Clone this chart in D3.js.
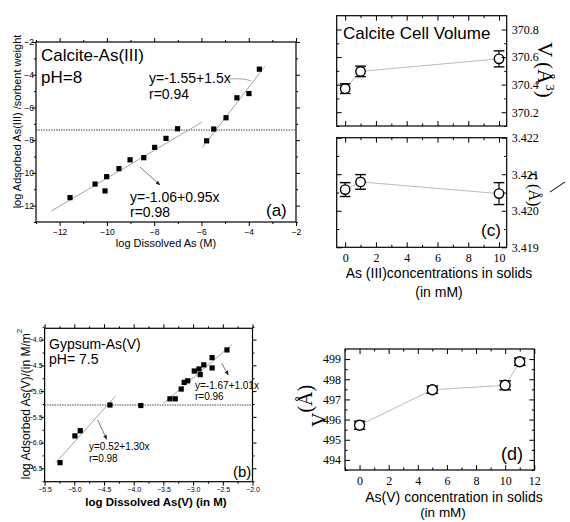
<!DOCTYPE html>
<html>
<head>
<meta charset="utf-8">
<script src="https://cdn.jsdelivr.net/npm/d3@7"></script>
<style>
  body { margin: 0; background: #fff; }
  svg { display: block; }
  text { font-family: "Liberation Sans", Arial, sans-serif; fill: #000; }
  .serif text, text.serif { font-family: "Liberation Serif", "Times New Roman", serif; }
</style>
</head>
<body>
<svg id="chart" width="570" height="522"></svg>
<script>
// (a) calcite, As(III) sorption
var calciteX = [-11.56, -10.50, -10.01, -10.08, -9.49, -9.02, -8.44, -7.98, -7.50, -7.01, -5.78, -5.48, -4.96, -4.50, -3.99, -3.55];
var calciteY = [-11.51, -10.68, -10.23, -11.10, -9.74, -9.20, -9.07, -8.44, -7.89, -7.30, -8.04, -7.32, -6.63, -5.41, -5.15, -3.66];
var calciteFitLow = [[-12.34, -12.32], [-5.98, -6.90]];
var calciteFitHigh = [[-5.96, -8.44], [-3.31, -3.48]];
var calciteLevel = -7.38;
var calciteTicks = [-12, -10, -8, -6, -4, -2];

// (b) gypsum, As(V) sorption
var gypsumX = [-5.24, -4.99, -4.90, -4.40, -3.88, -3.39, -3.30, -3.20, -3.15, -3.09, -2.98, -2.90, -2.88, -2.82, -2.68, -2.68, -2.43];
var gypsumY = [-6.39, -5.87, -5.77, -5.27, -5.28, -5.15, -5.15, -4.96, -4.83, -4.80, -4.61, -4.57, -4.68, -4.49, -4.35, -4.55, -4.20];
var gypsumFitLow = [[-5.31, -6.39], [-4.31, -5.10]];
var gypsumFitHigh = [[-3.50, -5.24], [-2.34, -4.09]];
var gypsumLevel = -5.27;
var gypsumXTicks = [-5.5, -5.0, -4.5, -4.0, -3.5, -3.0, -2.5, -2.0];
var gypsumYTicks = [-6.5, -6.0, -5.5, -5.0, -4.5, -4.0];

// (c) calcite cell parameters
var cellX = [0, 1, 10];
var cellV = [370.371, 370.496, 370.587];
var cellVErr = [0.035, 0.038, 0.058];
var cellC = [3.42058, 3.42079, 3.42047];
var cellCErr = [0.00019, 0.0002, 0.0003];
var cellXTicks = [0, 2, 4, 6, 8, 10];
var cellVTicks = [370.2, 370.4, 370.6, 370.8];
var cellCTicks = [3.419, 3.420, 3.421, 3.422];

// (d) gypsum cell volume
var gypX = [0, 5, 10, 11];
var gypV = [495.72, 497.48, 497.70, 498.87];
var gypVErr = [0.20, 0.18, 0.22, 0.18];
var gypXTicks = [0, 2, 4, 6, 8, 10, 12];
var gypVTicks = [494, 495, 496, 497, 498, 499];

var svg = d3.select('#chart');

svg.append('defs').append('marker')
  .attr('id', 'head')
  .attr('viewBox', '0 0 10 10')
  .attr('refX', 9).attr('refY', 5)
  .attr('markerWidth', 6).attr('markerHeight', 6)
  .attr('orient', 'auto')
  .append('path').attr('d', 'M0,1 L10,5 L0,9 z').attr('fill', '#222');

// one side of a frame: major ticks (maybe labelled) and minor ticks
function side(orient, scale, major, minor, len, pos, fmt, pad, fontSize, serif) {
  var horizontal = (orient === d3.axisBottom || orient === d3.axisTop);
  var tr = horizontal ? 'translate(0,' + pos + ')' : 'translate(' + pos + ',0)';
  var m = svg.append('g').attr('transform', tr)
    .call(orient(scale).tickValues(minor).tickSize(len / 2).tickFormat(''));
  m.select('.domain').remove();
  var g = svg.append('g').attr('transform', tr)
    .call(orient(scale).tickValues(major).tickSize(len).tickPadding(pad || 2).tickFormat(fmt || ''));
  g.select('.domain').remove();
  svg.selectAll('.tick line').attr('stroke', '#000').attr('stroke-width', 1);
  g.selectAll('text')
    .style('font-family', serif ? '"Liberation Serif", "Times New Roman", serif' : '"Liberation Sans", Arial, sans-serif')
    .style('font-size', fontSize + 'px');
  return g;
}

function box(x, y) {
  svg.append('rect')
    .attr('x', x.range()[0]).attr('y', y.range()[1])
    .attr('width', x.range()[1] - x.range()[0])
    .attr('height', y.range()[0] - y.range()[1])
    .attr('fill', 'none').attr('stroke', '#000').attr('stroke-width', 1.2);
}

function label(x, y, str, size, opts) {
  opts = opts || {};
  var t = svg.append('text').attr('x', x).attr('y', y).text(str).style('font-size', size + 'px');
  if (opts.anchor) { t.attr('text-anchor', opts.anchor); }
  if (opts.bold) { t.style('font-weight', 'bold'); }
  if (opts.serif) { t.attr('class', 'serif'); }
  return t;
}

function segment(x, y, pts, color, width) {
  svg.append('path')
    .attr('d', d3.line().x(function(d) { return x(d[0]); }).y(function(d) { return y(d[1]); })(pts))
    .attr('fill', 'none').attr('stroke', color).attr('stroke-width', width);
}

function level(x, y, v) {
  svg.append('line')
    .attr('x1', x.range()[0]).attr('x2', x.range()[1])
    .attr('y1', y(v)).attr('y2', y(v))
    .attr('stroke', '#333').attr('stroke-width', 0.9)
    .attr('stroke-dasharray', '1.5,1');
}

function squares(x, y, xs, ys) {
  svg.append('g').selectAll('rect').data(xs).join('rect')
    .attr('x', function(d) { return x(d) - 2.6; })
    .attr('y', function(d, i) { return y(ys[i]) - 2.6; })
    .attr('width', 5.2).attr('height', 5.2).attr('fill', '#000');
}

function circlesWithErr(x, y, xs, ys, errs, r, cap) {
  segment(x, y, xs.map(function(d, i) { return [d, ys[i]]; }), '#bbb', 1);
  var g = svg.append('g');
  xs.forEach(function(d, i) {
    var cx = x(d), lo = y(ys[i] - errs[i]), hi = y(ys[i] + errs[i]);
    g.append('line').attr('x1', cx).attr('x2', cx).attr('y1', lo).attr('y2', hi).attr('stroke', '#000').attr('stroke-width', 1.2);
    [lo, hi].forEach(function(yy) {
      g.append('line').attr('x1', cx - cap).attr('x2', cx + cap).attr('y1', yy).attr('y2', yy).attr('stroke', '#000').attr('stroke-width', 1.4);
    });
    g.append('circle').attr('cx', cx).attr('cy', y(ys[i])).attr('r', r)
      .attr('fill', '#fff').attr('stroke', '#000').attr('stroke-width', 1.4);
  });
}

// ---------- (a) ----------
var xA = d3.scaleLinear().domain([-13, -2]).range([36, 296]);
var yA = d3.scaleLinear().domain([-13, -2]).range([222, 42]);
var fmtInt = d3.format('d');
level(xA, yA, calciteLevel);
segment(xA, yA, calciteFitLow, '#999', 0.9);
segment(xA, yA, calciteFitHigh, '#999', 0.9);
squares(xA, yA, calciteX, calciteY);
box(xA, yA);
side(d3.axisBottom, xA, calciteTicks, d3.range(-13, -2, 2), 4, 222, fmtInt, 2.5, 8.5);
side(d3.axisTop, xA, calciteTicks, d3.range(-13, -2, 2), 4, 42);
side(d3.axisLeft, yA, calciteTicks, d3.range(-13, -2, 2), 4, 36, fmtInt, -2, 8.5);
side(d3.axisRight, yA, calciteTicks, d3.range(-13, -2, 2), 4, 296);

label(41, 61, 'Calcite-As(III)', 17);
label(41, 83, 'pH=8', 17);
label(149, 83, 'y=-1.55+1.5x', 14);
label(149, 99, 'r=0.94', 14);
label(130, 202, 'y=-1.06+0.95x', 14);
label(130, 217, 'r=0.98', 14);
label(266, 216, '(a)', 17);
svg.append('path').attr('d', 'M228,79 Q245,78 251,81').attr('fill', 'none').attr('stroke', '#999').attr('stroke-width', 0.9);
svg.append('line').attr('x1', 140).attr('y1', 167).attr('x2', 160).attr('y2', 185)
  .attr('stroke', '#555').attr('stroke-width', 0.8).attr('marker-end', 'url(#head)');
label(166, 247, 'log Dissolved As (M)', 11, { anchor: 'middle' });
label(0, 0, 'log Adsorbed As(III) /sorbent weight', 11, { anchor: 'middle' })
  .attr('transform', 'translate(21,121.5) rotate(-90)');

// ---------- (b) ----------
var xB = d3.scaleLinear().domain([-5.5, -2.0]).range([44.6, 252.5]);
var yB = d3.scaleLinear().domain([-6.76, -3.78]).range([481.7, 328.3]);
var fmt1 = d3.format('.1f');
level(xB, yB, gypsumLevel);
segment(xB, yB, gypsumFitLow, '#999', 0.9);
segment(xB, yB, gypsumFitHigh, '#999', 0.9);
squares(xB, yB, gypsumX, gypsumY);
box(xB, yB);
side(d3.axisBottom, xB, gypsumXTicks, d3.range(-5.25, -2.0, 0.5), 4, 481.7, fmt1, 1, 7);
side(d3.axisTop, xB, gypsumXTicks, d3.range(-5.25, -2.0, 0.5), 4, 328.3);
side(d3.axisLeft, yB, gypsumYTicks, d3.range(-6.75, -3.7, 0.5), 4, 44.6, fmt1, -2, 7);
side(d3.axisRight, yB, gypsumYTicks, d3.range(-6.75, -3.7, 0.5), 4, 252.5);

label(49, 349, 'Gypsum-As(V)', 14);
label(49, 364, 'pH= 7.5', 14);
label(195, 389, 'y=-1.67+1.01x', 10);
label(195, 400, 'r=0.96', 10);
label(89, 450, 'y=0.52+1.30x', 10);
label(89, 462, 'r=0.98', 10);
label(233, 477, '(b)', 15);
svg.append('line').attr('x1', 97.7).attr('y1', 420).attr('x2', 106.7).attr('y2', 439.3)
  .attr('stroke', '#555').attr('stroke-width', 0.8).attr('marker-end', 'url(#head)');
svg.append('line').attr('x1', 221.7).attr('y1', 363.3).attr('x2', 228.3).attr('y2', 375)
  .attr('stroke', '#555').attr('stroke-width', 0.8).attr('marker-end', 'url(#head)');
label(156, 506, 'log Dissolved As(V) (in M)', 11.5, { anchor: 'middle', bold: true });
var tB = label(0, 0, 'log Adsorbed As(V)/(in M/m', 12, { anchor: 'middle' })
  .attr('transform', 'translate(30,404) rotate(-90)');
tB.append('tspan').attr('dy', -8).style('font-size', '8px').text('2');

// ---------- (c) ----------
var xC = d3.scaleLinear().domain([-0.55, 10.5]).range([336.7, 506.7]);
var yCv = d3.scaleLinear().domain([370.1, 370.9]).range([126, 15.7]);
var yCc = d3.scaleLinear().domain([3.419, 3.422]).range([247.3, 137.7]);
var xMinorC = d3.range(1, 11, 2);
circlesWithErr(xC, yCv, cellX, cellV, cellVErr, 4.7, 5.3);
box(xC, yCv);
side(d3.axisTop, xC, cellXTicks, xMinorC, -5, 15.7);
side(d3.axisBottom, xC, cellXTicks, xMinorC, -5, 126);
side(d3.axisLeft, yCv, cellVTicks, d3.range(370.1, 370.9, 0.2), -5, 336.7);
side(d3.axisRight, yCv, cellVTicks, d3.range(370.1, 370.9, 0.2), -5, 506.7, d3.format('.1f'), 5, 12, true);

circlesWithErr(xC, yCc, cellX, cellC, cellCErr, 4.7, 5.3);
box(xC, yCc);
side(d3.axisTop, xC, cellXTicks, xMinorC, -5, 137.7);
side(d3.axisBottom, xC, cellXTicks, xMinorC, -5, 247.3, fmtInt, 6, 12, true);
side(d3.axisLeft, yCc, cellCTicks, d3.range(3.4195, 3.422, 0.001), -5, 336.7);
side(d3.axisRight, yCc, cellCTicks, d3.range(3.4195, 3.422, 0.001), -5, 506.7, d3.format('.3f'), 5, 12, true);

label(343, 39, 'Calcite Cell Volume', 17);
label(481, 236, '(c)', 17);
var tC = label(0, 0, 'V (Å', 21, { serif: true })
  .attr('transform', 'translate(538,42) rotate(90)');
tC.append('tspan').attr('dy', -8).style('font-size', '13px').text('3');
tC.append('tspan').attr('dy', 8).text(')');
label(0, 0, 'c (Å)', 16, { serif: true }).attr('transform', 'translate(529,173) rotate(90)');
svg.append('line').attr('x1', 550).attr('y1', 192).attr('x2', 565).attr('y2', 182).attr('stroke', '#000').attr('stroke-width', 1);
label(439, 278, 'As (III)concentrations in solids', 14, { anchor: 'middle' });
label(439, 297, '(in mM)', 14, { anchor: 'middle' });

// ---------- (d) ----------
var xD = d3.scaleLinear().domain([-1, 12]).range([345, 534.3]);
var yD = d3.scaleLinear().domain([493.5, 499.5]).range([470, 349]);
circlesWithErr(xD, yD, gypX, gypV, gypVErr, 5, 5.8);
box(xD, yD);
side(d3.axisBottom, xD, gypXTicks, d3.range(-1, 12, 2), -5, 470, fmtInt, 6, 12, true);
side(d3.axisTop, xD, gypXTicks, d3.range(-1, 12, 2), -5, 349);
side(d3.axisLeft, yD, gypVTicks, d3.range(493.5, 499.5, 1), -5, 345, fmtInt, 4, 12, true);
side(d3.axisRight, yD, gypVTicks, d3.range(493.5, 499.5, 1), -5, 534.3);

label(501, 460, '(d)', 18);
var tD = label(0, 0, 'V', 20, { serif: true }).attr('transform', 'translate(326,427) rotate(-90)');
tD.append('tspan').attr('dy', -14).text('(Å)');
label(454, 502, 'As(V) concentration in solids', 14, { anchor: 'middle' });
label(443, 517, '(in mM)', 13.5, { anchor: 'middle' });
</script>
</body>
</html>
